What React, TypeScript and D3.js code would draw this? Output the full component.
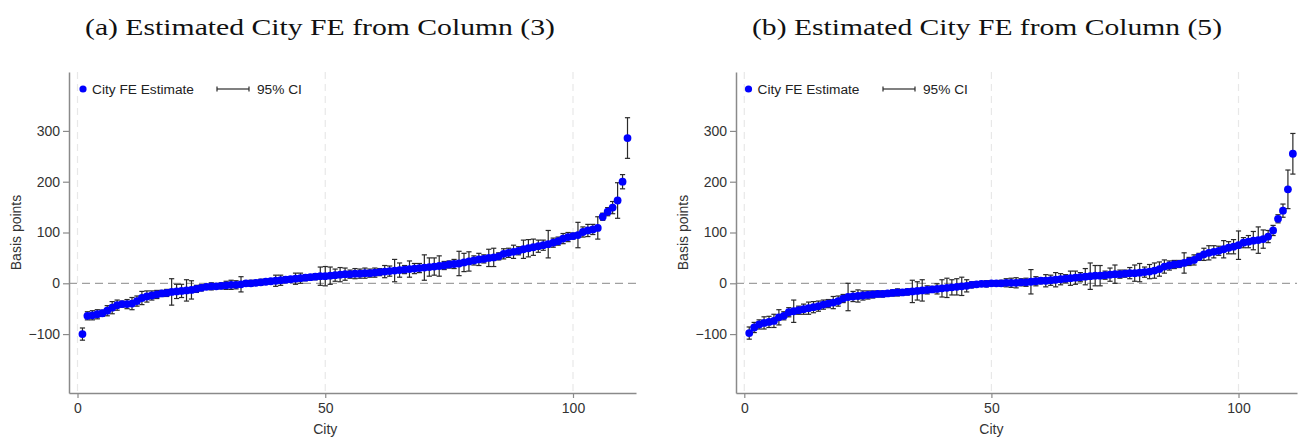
import { useEffect, useRef } from "react";
import * as d3 from "d3";

// estimates (basis points) sorted by city rank, and 95% CI half-widths
const cityFeCol3 = [
  -100, -64, -63, -61, -59, -54, -48, -43, -41, -41, -40, -35, -29, -26, -24, -22, -20, -19, -17, -16,
  -15, -14, -13, -11, -9, -7, -6, -6, -5, -4, -3, -3, -2, 0, 0, 1, 2, 3, 4, 5,
  6, 7, 8, 9, 10, 11, 12, 13, 14, 14, 15, 16, 17, 18, 18, 19, 19, 20, 20, 21,
  22, 23, 24, 25, 26, 27, 28, 29, 30, 31, 32, 33, 34, 35, 37, 38, 39, 41, 43, 45,
  47, 48, 50, 51, 53, 58, 60, 62, 64, 67, 69, 71, 73, 75, 77, 80, 83, 88, 91, 93,
  95, 101, 104, 106, 109, 131, 141, 149, 163, 200, 286,
];
const ciCol3 = [
  12, 8, 9, 9, 6, 10, 12, 10, 6, 9, 12, 10, 13, 11, 9, 8, 6, 7, 26, 14,
  13, 21, 18, 7, 6, 5, 7, 5, 6, 8, 9, 8, 15, 5, 6, 5, 6, 5, 5, 11,
  10, 6, 5, 11, 10, 6, 5, 6, 18, 19, 17, 12, 14, 12, 8, 10, 9, 10, 8, 9,
  7, 12, 10, 22, 14, 8, 16, 10, 9, 25, 18, 17, 20, 8, 7, 9, 24, 18, 19, 9,
  12, 8, 17, 18, 7, 10, 9, 13, 8, 18, 17, 16, 12, 10, 27, 9, 8, 10, 9, 6,
  25, 10, 12, 10, 22, 7, 8, 12, 35, 14, 40,
];
const cityFeCol5 = [
  -98, -87, -81, -78, -76, -74, -67, -64, -57, -55, -53, -51, -49, -47, -45, -42, -40, -38, -35, -30,
  -27, -26, -25, -24, -23, -22, -21, -21, -20, -19, -18, -18, -17, -16, -15, -14, -13, -12, -11, -10,
  -9, -8, -7, -6, -5, -3, -2, -1, -1, 0, 0, 0, 1, 1, 1, 2, 2, 3, 4, 5,
  5, 6, 7, 8, 9, 10, 11, 12, 13, 14, 15, 15, 16, 17, 18, 18, 19, 20, 20, 21,
  22, 23, 25, 28, 33, 35, 37, 38, 40, 43, 46, 52, 57, 60, 62, 64, 67, 70, 72, 75,
  80, 82, 84, 85, 87, 92, 104, 127, 143, 185, 255,
];
const ciCol5 = [
  12, 10, 9, 12, 11, 13, 15, 8, 9, 22, 8, 10, 12, 11, 10, 9, 8, 12, 10, 8,
  27, 10, 12, 9, 8, 7, 6, 6, 5, 6, 7, 5, 6, 22, 18, 21, 8, 6, 10, 17,
  19, 15, 16, 18, 12, 6, 5, 5, 6, 5, 5, 6, 8, 9, 10, 7, 8, 24, 9, 6,
  12, 10, 14, 11, 8, 14, 13, 9, 16, 26, 20, 20, 8, 13, 18, 8, 7, 11, 16, 18,
  10, 14, 15, 14, 13, 9, 8, 7, 20, 8, 10, 7, 12, 14, 12, 9, 17, 12, 14, 28,
  10, 12, 18, 26, 18, 12, 10, 8, 13, 38, 40,
];

const yTicks = [-100, 0, 100, 200, 300];
const xTicks = [0, 50, 100];
const panelTitles = [
  "(a) Estimated City FE from Column (3)",
  "(b) Estimated City FE from Column (5)",
];
const legendLabels = ["City FE Estimate", "95% CI"];

const panels = [
  { title: panelTitles[0], fe: cityFeCol3, ci: ciCol3, left: 69, right: 636, x0: 77.5, x100: 573, titleX: 320, legX: 83, ciLegX: 217 },
  { title: panelTitles[1], fe: cityFeCol5, ci: ciCol5, left: 736, right: 1297, x0: 744.3, x100: 1238.5, titleX: 987, legX: 748.5, ciLegX: 883 },
];

const sans = "'Liberation Sans', Arial, sans-serif";

const App = () => {
  const svgRef = useRef<SVGSVGElement>(null);

  useEffect(() => {
    const svg = d3.select(svgRef.current);
    svg.selectAll("*").remove();
    const top = 72;
    const bottom = 393;
    const y = d3.scaleLinear().domain([-216, 416]).range([bottom, top]);

    panels.forEach((p) => {
      const base = d3.scaleLinear().domain([0, 100]).range([p.x0, p.x100]);
      const x = d3
        .scaleLinear()
        .domain([base.invert(p.left), base.invert(p.right)])
        .range([p.left, p.right]);
      const g = svg.append("g");

      g.append("text")
        .attr("x", p.titleX)
        .attr("y", 35)
        .attr("text-anchor", "middle")
        .attr("font-family", "'Liberation Serif', serif")
        .attr("font-size", 24)
        .attr("textLength", 470)
        .attr("lengthAdjust", "spacingAndGlyphs")
        .attr("fill", "#111")
        .text(p.title);

      // vertical grid
      g.selectAll(".vgrid")
        .data(xTicks)
        .join("line")
        .attr("x1", (d) => x(d))
        .attr("x2", (d) => x(d))
        .attr("y1", top)
        .attr("y2", bottom)
        .attr("stroke", "#e8e8e8")
        .attr("stroke-width", 1.2)
        .attr("stroke-dasharray", "7,5");

      // zero line
      g.append("line")
        .attr("x1", p.left)
        .attr("x2", p.right)
        .attr("y1", y(0))
        .attr("y2", y(0))
        .attr("stroke", "#a0a0a0")
        .attr("stroke-width", 1.3)
        .attr("stroke-dasharray", "8,5");

      // axes
      const yAxis = g
        .append("g")
        .attr("transform", `translate(${p.left},0)`)
        .call(d3.axisLeft(y).tickValues(yTicks).tickSize(6).tickSizeOuter(0).tickPadding(3));
      const xAxis = g
        .append("g")
        .attr("transform", `translate(0,${bottom})`)
        .call(d3.axisBottom(x).tickValues(xTicks).tickSize(5).tickSizeOuter(0).tickPadding(5));
      [yAxis, xAxis].forEach((a) => {
        a.select(".domain").attr("stroke", "#8a8a8a").attr("stroke-width", 1.5);
        a.selectAll(".tick line").attr("stroke", "#8a8a8a").attr("stroke-width", 1.2);
        a.selectAll(".tick text")
          .attr("font-family", sans)
          .attr("font-size", 14)
          .attr("fill", "#333");
      });

      // axis titles
      g.append("text")
        .attr("transform", `translate(${p.left - 48},${(top + bottom) / 2}) rotate(-90)`)
        .attr("text-anchor", "middle")
        .attr("font-family", sans)
        .attr("font-size", 14)
        .attr("fill", "#333")
        .text("Basis points");
      g.append("text")
        .attr("x", x(50))
        .attr("y", 434)
        .attr("text-anchor", "middle")
        .attr("font-family", sans)
        .attr("font-size", 14)
        .attr("fill", "#333")
        .text("City");

      // error bars
      const bars = g.append("g").attr("stroke", "#2a2a2a").attr("stroke-width", 1.2);
      p.fe.forEach((v, i) => {
        const cx = x(i + 1);
        const lo = y(v - p.ci[i]);
        const hi = y(v + p.ci[i]);
        bars.append("line").attr("x1", cx).attr("x2", cx).attr("y1", lo).attr("y2", hi);
        bars.append("line").attr("x1", cx - 2.6).attr("x2", cx + 2.6).attr("y1", lo).attr("y2", lo);
        bars.append("line").attr("x1", cx - 2.6).attr("x2", cx + 2.6).attr("y1", hi).attr("y2", hi);
      });

      // point estimates
      g.append("g")
        .selectAll("circle")
        .data(p.fe)
        .join("circle")
        .attr("cx", (_, i) => x(i + 1))
        .attr("cy", (d) => y(d))
        .attr("r", 3.9)
        .attr("fill", "#0000ff");

      // legend
      const ly = 89;
      g.append("circle").attr("cx", p.legX).attr("cy", ly).attr("r", 3.6).attr("fill", "#0000ff");
      g.append("text")
        .attr("x", p.legX + 9)
        .attr("y", ly + 5)
        .attr("font-family", sans)
        .attr("font-size", 13.7)
        .attr("fill", "#222")
        .text(legendLabels[0]);
      const leg = g.append("g").attr("stroke", "#2a2a2a").attr("stroke-width", 1.2);
      leg.append("line").attr("x1", p.ciLegX).attr("x2", p.ciLegX + 32).attr("y1", ly).attr("y2", ly);
      leg.append("line").attr("x1", p.ciLegX).attr("x2", p.ciLegX).attr("y1", ly - 2.5).attr("y2", ly + 2.5);
      leg.append("line").attr("x1", p.ciLegX + 32).attr("x2", p.ciLegX + 32).attr("y1", ly - 2.5).attr("y2", ly + 2.5);
      g.append("text")
        .attr("x", p.ciLegX + 40)
        .attr("y", ly + 5)
        .attr("font-family", sans)
        .attr("font-size", 13.7)
        .attr("fill", "#222")
        .text(legendLabels[1]);
    });
  }, []);

  return (
    <div style={{ position: "absolute", left: 0, top: 0, background: "#fff" }}>
      <svg ref={svgRef} width={1306} height={437} style={{ display: "block" }}></svg>
    </div>
  );
};

export default App;
